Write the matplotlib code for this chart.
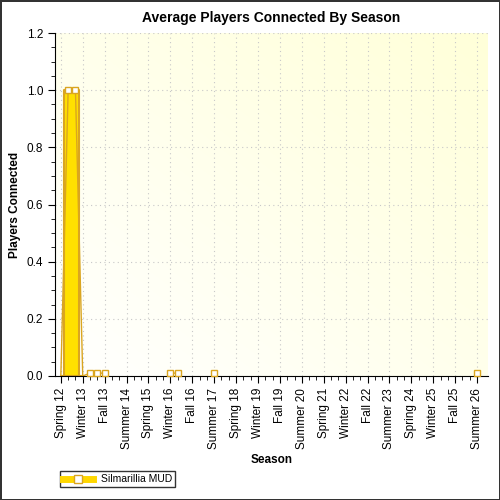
import numpy as np
import matplotlib.pyplot as plt
from matplotlib.ticker import MultipleLocator, FixedLocator
from matplotlib.lines import Line2D

seasons = ["Spring", "Summer", "Fall", "Winter"]
categories = []
y = 12
for i in range(58):
    s = seasons[i % 4]
    if s == "Winter":
        y += 1
    categories.append(f"{s} {y}")
tick_labels = categories[::3]

nan = np.nan
values = [nan] * 58
for idx, v in {0: 0.0, 1: 1.0, 2: 1.0, 3: 0.0, 4: 0.01, 5: 0.01, 6: 0.01,
               15: 0.01, 16: 0.01, 21: 0.01, 57: 0.01}.items():
    values[idx] = v
values = np.array(values)
x = np.arange(len(categories))

fig = plt.figure(figsize=(5, 5), dpi=100)
fig.patch.set_facecolor("white")
fig.patch.set_edgecolor("#333333")
fig.patch.set_linewidth(2)
ax = fig.add_axes([0.11, 0.248, 0.866, 0.686])

grad = np.linspace(0, 1, 256)
gx, gy = np.meshgrid(grad, grad)
g = (gx + (1 - gy)) / 2
img = np.ones((256, 256, 3))
img[..., 2] = 1.0 - 0.15 * g
ax.imshow(img, extent=[-0.8, 58.5, 0, 1.2], aspect="auto", zorder=0, origin="upper")

vv = np.nan_to_num(values)
ax.fill_between(x[:4], 0, vv[:4], step="mid", color="#FFE000",
                edgecolor="#DAA520", linewidth=1.5, zorder=2)
ax.plot(x, values, color="#DAA520", linewidth=1.0, zorder=3)
mx = x[[1, 2, 4, 5, 6, 15, 16, 21, 57]]
ax.plot(mx, values[mx], linestyle="none", marker="s", markersize=5,
        markerfacecolor="white", markeredgecolor="#DAA520", zorder=4,
        clip_on=False)

ax.set_xlim(-0.8, 58.5)
ax.set_ylim(0, 1.2)
ax.xaxis.set_major_locator(FixedLocator(x[::3]))
ax.set_xticklabels(tick_labels, rotation=90, fontsize=8.5, family="Liberation Sans")
ax.xaxis.set_minor_locator(FixedLocator(x))
ax.yaxis.set_minor_locator(MultipleLocator(0.05))
ax.set_yticks(np.arange(0, 1.21, 0.2))
ax.set_yticklabels([f"{v:.1f}" for v in np.arange(0, 1.21, 0.2)], fontsize=8.5,
                   family="Liberation Sans")
ax.tick_params(which="major", length=5, direction="out")
ax.tick_params(which="minor", length=3, direction="out")
ax.grid(True, which="major", color="#c8c8c8", linestyle=(0, (1, 3)), linewidth=0.8, zorder=1)
for s in ["top", "right"]:
    ax.spines[s].set_visible(False)

ax.set_title("Average Players Connected By Season", fontsize=10, fontweight="bold",
             family="Liberation Sans", pad=8)
ax.set_xlabel("Season", fontsize=8.5, fontweight="bold", family="Liberation Sans")
ax.set_ylabel("Players Connected", fontsize=8.5, fontweight="bold", family="Liberation Sans")

h = Line2D([], [], color="#FFD700", linewidth=5, marker="s", markerfacecolor="white",
           markeredgecolor="#DAA520", markersize=6)
fig.legend([h], ["Silmarillia MUD"], loc="lower left", bbox_to_anchor=(0.11, 0.015),
           fancybox=False, edgecolor="black", handlelength=2.8,
           borderpad=0.3, prop={"family": "Liberation Sans", "size": 7.5})

fig.savefig("out.png", dpi=100, facecolor="white", edgecolor=fig.get_edgecolor())
